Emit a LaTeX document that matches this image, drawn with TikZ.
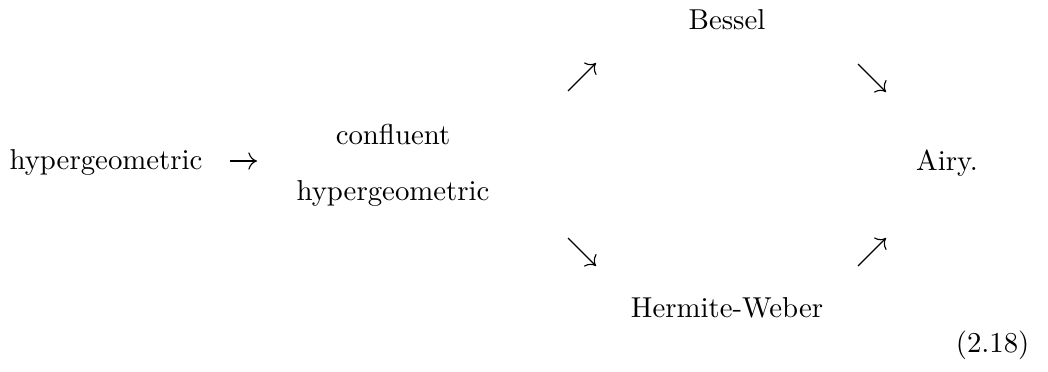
\documentclass[tikz,border=0pt]{standalone}
\usepackage{tikz}
\usetikzlibrary{arrows.meta}
\tikzstyle{term} = [inner sep=0pt, anchor=base]
\tikzstyle{arrow} = [line width=0.4pt,-{Computer Modern Rightarrow[length=3pt,width=6pt]}]

\begin{document}
\begin{tikzpicture}[x=0.3472pt, y=-0.3472pt]
\useasboundingbox (0,0) rectangle (1048,371);

% Nodes for the functions
\node (hyp) [term] at (106,169) {hypergeometric};
\node (conf) [term] at (393,144) {confluent};
\node (confhyp) [term] at (393,200) {hypergeometric};
\node (bessel) [term] at (727,29) {Bessel};
\node (hermite) [term] at (727,317) {Hermite-Weber};
\node (airy) [term] at (947,170) {Airy.};
\node (eqno) [term, anchor=base east] at (1030,352) {(2.18)};

% Arrow ends
\coordinate (a1) at (230,161);
\coordinate (b1) at (257,161);
\coordinate (a2) at (568,91);
\coordinate (b2) at (596,63);
\coordinate (a3) at (568,238);
\coordinate (b3) at (596,266);
\coordinate (a4) at (858,64);
\coordinate (b4) at (886,92);
\coordinate (a5) at (858,266);
\coordinate (b5) at (886,238);

% Arrows
\draw [arrow] (a1) -- (b1);
\draw [arrow] (a2) -- (b2);
\draw [arrow] (a3) -- (b3);
\draw [arrow] (a4) -- (b4);
\draw [arrow] (a5) -- (b5);

\end{tikzpicture}
\end{document}
